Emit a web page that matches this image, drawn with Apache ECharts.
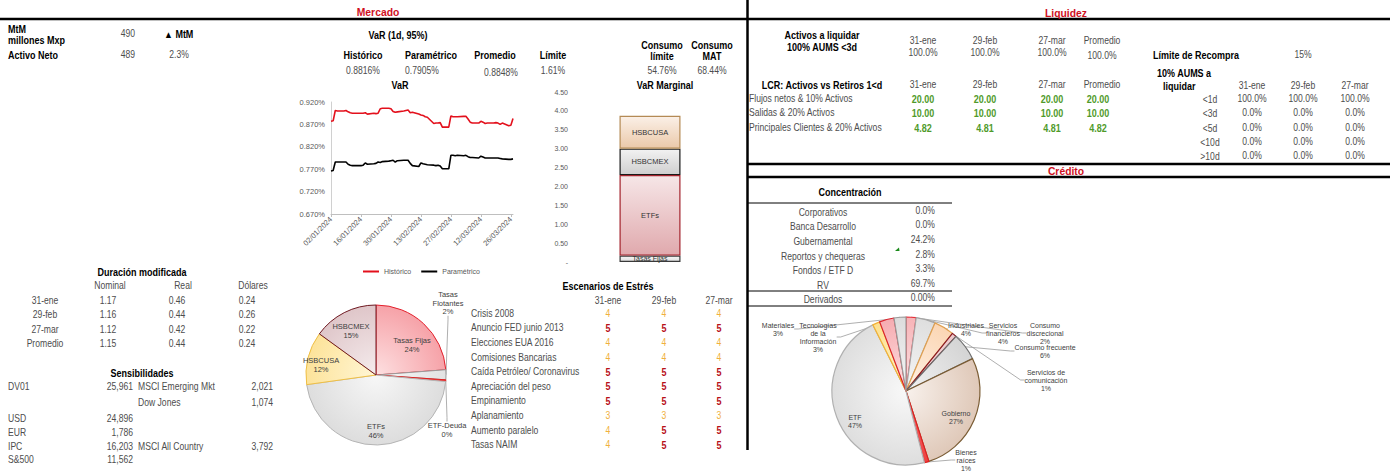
<!DOCTYPE html>
<html><head><meta charset="utf-8">
<script src="https://cdn.jsdelivr.net/npm/echarts@6/dist/echarts.min.js"></script>
<style>html,body{margin:0;padding:0;background:#fff}#c{width:1390px;height:473px}</style>
</head><body><div id="c"></div>
<script>
// ---------------- DATA ----------------
const mtmMillones = '490';
const activoNeto = '489';
const deltaMtM = '2.3%';

const varHeaders = ['Histórico', 'Paramétrico', 'Promedio', 'Límite'];
const varResumen = ['0.8816%', '0.7905%', '0.8848%', '1.61%'];
const consumoHeaders = [['Consumo', 'límite'], ['Consumo', 'MAT']];
const consumoValores = ['54.76%', '68.44%'];

const varFechas = [
 '02/01/2024','03/01/2024','04/01/2024','05/01/2024','08/01/2024','09/01/2024','10/01/2024','11/01/2024','12/01/2024',
 '15/01/2024','16/01/2024','17/01/2024','18/01/2024','19/01/2024','22/01/2024','23/01/2024','24/01/2024','25/01/2024',
 '26/01/2024','29/01/2024','30/01/2024','31/01/2024',
 '01/02/2024','02/02/2024','05/02/2024','06/02/2024','07/02/2024','08/02/2024','09/02/2024','12/02/2024','13/02/2024',
 '14/02/2024','15/02/2024','16/02/2024','19/02/2024','20/02/2024','21/02/2024','22/02/2024','23/02/2024','26/02/2024',
 '27/02/2024','28/02/2024','29/02/2024',
 '01/03/2024','04/03/2024','05/03/2024','06/03/2024','07/03/2024','08/03/2024','11/03/2024','12/03/2024','13/03/2024',
 '14/03/2024','15/03/2024','18/03/2024','19/03/2024','20/03/2024','21/03/2024','22/03/2024','25/03/2024','26/03/2024',
 '27/03/2024'];
const varHistorico = [
 0.877,0.878,0.901,0.900,0.900,0.901,0.898,0.896,0.895,0.895,0.895,0.895,0.896,0.893,0.895,0.894,0.895,0.905,0.906,0.906,0.905,0.899,
 0.897,0.898,0.900,0.901,0.902,0.896,0.897,0.893,0.891,0.890,0.887,0.886,0.872,0.873,0.873,0.874,0.864,0.864,0.889,0.887,0.887,
 0.887,0.888,0.888,0.882,0.875,0.873,0.873,0.877,0.875,0.872,0.873,0.873,0.874,0.873,0.870,0.873,0.867,0.868,0.883];
const varParametrico = [
 0.766,0.767,0.786,0.786,0.786,0.786,0.781,0.779,0.778,0.778,0.778,0.779,0.784,0.781,0.782,0.783,0.786,0.785,0.787,0.788,0.789,0.790,
 0.786,0.789,0.790,0.790,0.790,0.783,0.778,0.776,0.784,0.782,0.781,0.780,0.779,0.778,0.779,0.777,0.771,0.771,0.801,0.801,0.800,
 0.801,0.800,0.801,0.798,0.796,0.796,0.795,0.799,0.797,0.795,0.795,0.795,0.795,0.795,0.794,0.793,0.792,0.792,0.793];

const margNombres = ['Tasas Fijas', 'ETFs', 'HSBCMEX', 'HSBCUSA'];
const margValores = [0.17, 2.13, 0.70, 0.87];

const durFechas = ['31-ene', '29-feb', '27-mar', 'Promedio'];
const durNominal = [1.17, 1.16, 1.12, 1.15];
const durReal = [0.46, 0.44, 0.42, 0.44];
const durDolares = [0.24, 0.26, 0.22, 0.24];

const sensNombres = ['DV01', 'USD', 'EUR', 'IPC', 'S&500'];
const sensValores = ['25,961', '24,896', '1,786', '16,203', '11,562'];
const sensIdxNombres = ['MSCI Emerging Mkt', 'Dow Jones', 'MSCI All Country'];
const sensIdxValores = ['2,021', '1,074', '3,792'];

const pieNombres = ['Tasas Fijas', 'Tasas Flotantes', 'ETF-Deuda', 'ETFs', 'HSBCUSA', 'HSBCMEX'];
const pieValores = [23.8, 2.3, 0.4, 46.3, 12.2, 15.0];

const escFechas = ['31-ene', '29-feb', '27-mar'];
const escNombres = ['Crisis 2008','Anuncio FED junio 2013','Elecciones EUA 2016','Comisiones Bancarias','Caída Petróleo/ Coronavirus',
 'Apreciación del peso','Empinamiento','Aplanamiento','Aumento paralelo','Tasas NAIM'];
const escEne = [4,5,4,4,5,5,5,3,4,4];
const escFeb = [4,5,4,4,5,5,5,3,5,5];
const escMar = [4,5,4,4,5,5,5,3,5,5];

const liqFechas = ['31-ene', '29-feb', '27-mar', 'Promedio'];
const liqAums3d = ['100.0%', '100.0%', '100.0%', '100.0%'];
const lcrNombres = ['Flujos netos & 10% Activos', 'Salidas & 20% Activos', 'Principales Clientes & 20% Activos'];
const lcrFlujos = ['20.00', '20.00', '20.00', '20.00'];
const lcrSalidas = ['10.00', '10.00', '10.00', '10.00'];
const lcrClientes = ['4.82', '4.81', '4.81', '4.82'];
const limiteRecompra = '15%';
const aumsPlazos = ['<1d', '<3d', '<5d', '<10d', '>10d'];
const aumsEne = ['100.0%', '0.0%', '0.0%', '0.0%', '0.0%'];
const aumsFeb = ['100.0%', '0.0%', '0.0%', '0.0%', '0.0%'];
const aumsMar = ['100.0%', '0.0%', '0.0%', '0.0%', '0.0%'];

const concNombres = ['Corporativos', 'Banca Desarrollo', 'Gubernamental', 'Reportos y chequeras', 'Fondos / ETF D', 'RV', 'Derivados'];
const concValores = ['0.0%', '0.0%', '24.2%', '2.8%', '3.3%', '69.7%', '0.00%'];

const credNombres = ['Consumo discrecional', 'Servicios financieros', 'Industriales', 'Servicios de comunicación', 'Consumo frecuente',
 'Gobierno', 'Bienes raíces', 'ETF', 'Otros', 'Materiales', 'Tecnologías de la Información'];
const credValores = [2.2, 4.2, 4.4, 1.0, 6.0, 27.2, 1.0, 46.6, 1.6, 3.2, 2.6];

// ---------------- STYLE / LAYOUT ----------------
const FF = '"Liberation Sans",Arial,sans-serif';
const SX = 0.86, SXB = 0.9;
const GREY = '#4d4d4d', RED = '#d0101e', GREEN = '#4f9a2a', ORANGE = '#f0b03c', DRED = '#b8101a';
const G = [];
function T(x, y, s, o) {
  o = o || {};
  G.push({type: 'text', x: x, y: y, scaleX: o.b ? SXB : SX, silent: true, z: 10,
    style: {text: String(s), fill: o.c || GREY, font: (o.b ? 'bold ' : '') + (o.s || 10) + 'px ' + FF,
      align: o.a || 'left', textAlign: o.a || 'left', verticalAlign: 'middle', textVerticalAlign: 'middle'}});
}
function L(x1, y1, x2, y2, w, c) {
  G.push({type: 'line', silent: true, z: 5, shape: {x1: x1, y1: y1, x2: x2, y2: y2}, style: {stroke: c || '#000', lineWidth: w || 1}});
}
function rg(cx, cy, r, c0, c1) {
  return {type: 'radial', x: cx, y: cy, r: r, global: true, colorStops: [{offset: 0, color: c0}, {offset: 1, color: c1}]};
}
function lg(c0, c1) {
  return {type: 'linear', x: 0, y: 0, x2: 0, y2: 1, colorStops: [{offset: 0, color: c0}, {offset: 1, color: c1}]};
}

// frame lines
L(0, 19, 1390, 19, 2.6);
L(747.5, 0, 747.5, 450, 2.5);
L(748, 164, 1390, 164, 2.5);
L(748, 177, 1390, 177, 2.5);
L(748, 203, 952, 203, 1);
L(748, 291, 952, 291, 1);
L(748, 306, 952, 306, 1);
G.push({type: 'polygon', silent: true, shape: {points: [[895, 251], [899, 247.5], [899.5, 251]]}, style: {fill: '#1a8a1a'}});

// section titles
T(378, 12, 'Mercado', {b: 1, s: 11.5, c: RED, a: 'center'});
T(1066, 13, 'Liquidez', {b: 1, s: 11.5, c: RED, a: 'center'});
T(1066, 170.5, 'Crédito', {b: 1, s: 11.5, c: RED, a: 'center'});

// top-left
T(8, 29, 'MtM', {b: 1, c: '#000'});
T(8, 40, 'millones Mxp', {b: 1, c: '#000'});
T(135, 34, mtmMillones, {a: 'right'});
T(164, 34, '▲ MtM', {b: 1, c: '#000'});
T(8, 55, 'Activo Neto', {b: 1, c: '#000'});
T(135, 55, activoNeto, {a: 'right'});
T(179, 55, deltaMtM, {a: 'center'});

// VaR header block
T(398, 35, 'VaR (1d, 95%)', {b: 1, c: '#000', a: 'center'});
const varHx = [363, 431, 495, 553];
const varVx = [363, 422, 501, 553];
varHeaders.forEach((h, i) => T(varHx[i], 55, h, {b: 1, c: '#000', a: 'center'}));
varResumen.forEach((v, i) => T(varVx[i], i === 2 ? 73 : 71, v, {a: 'center'}));
const consX = [662, 712];
consumoHeaders.forEach((h, i) => { T(consX[i], 45, h[0], {b: 1, c: '#000', a: 'center'}); T(consX[i], 56, h[1], {b: 1, c: '#000', a: 'center'}); });
consumoValores.forEach((v, i) => T(consX[i], 71, v, {a: 'center'}));
T(400, 85, 'VaR', {b: 1, c: '#000', a: 'center'});
T(665, 85, 'VaR Marginal', {b: 1, c: '#000', a: 'center'});

// Duración modificada
T(142, 272, 'Duración modificada', {b: 1, c: '#000', a: 'center'});
const durCols = [110, 183, 253];
['Nominal', 'Real', 'Dólares'].forEach((h, i) => T(durCols[i], 286, h, {a: 'center'}));
durFechas.forEach((f, i) => {
  const y = 301 + i * 14.2;
  T(45, y, f, {a: 'center'});
  T(108, y, durNominal[i].toFixed(2), {a: 'center'});
  T(177, y, durReal[i].toFixed(2), {a: 'center'});
  T(247, y, durDolares[i].toFixed(2), {a: 'center'});
});

// Sensibilidades
T(142, 373, 'Sensibilidades', {b: 1, c: '#000', a: 'center'});
const sensY = [387, 419, 433, 447, 460];
sensNombres.forEach((n, i) => { T(8, sensY[i], n); T(133, sensY[i], sensValores[i], {a: 'right'}); });
const sensIdxY = [387, 403, 447];
sensIdxNombres.forEach((n, i) => { T(138, sensIdxY[i], n); T(273, sensIdxY[i], sensIdxValores[i], {a: 'right'}); });

// Escenarios de Estrés
T(608, 286, 'Escenarios de Estrés', {b: 1, c: '#000', a: 'center'});
const escX = [608, 664, 719];
escFechas.forEach((f, i) => T(escX[i], 301, f, {a: 'center'}));
escNombres.forEach((n, i) => {
  const y = 313.5 + i * 14.6;
  T(471, y, n);
  [escEne[i], escFeb[i], escMar[i]].forEach((v, j) => {
    T(escX[j], y, v, {a: 'center', b: v === 5 ? 1 : 0, c: v === 5 ? DRED : ORANGE});
  });
});

// Liquidez
T(822, 35, 'Activos a liquidar', {b: 1, c: '#000', a: 'center'});
T(822, 47, '100% AUMS <3d', {b: 1, c: '#000', a: 'center'});
const liqX = [923, 985, 1052, 1102];
liqFechas.forEach((f, i) => T(liqX[i], 41, f, {a: 'center'}));
liqAums3d.forEach((v, i) => T(liqX[i], i === 3 ? 56 : 53, v, {a: 'center'}));
T(822, 85, 'LCR: Activos vs Retiros 1<d', {b: 1, c: '#000', a: 'center'});
liqFechas.forEach((f, i) => T(liqX[i], 85, f, {a: 'center'}));
const lcrY = [99, 113, 128];
const lcrVX = [923, 985, 1052, 1098];
[lcrFlujos, lcrSalidas, lcrClientes].forEach((row, r) => {
  T(749, lcrY[r], lcrNombres[r]);
  row.forEach((v, i) => T(lcrVX[i], lcrY[r], v, {a: 'center', b: 1, c: GREEN}));
});
T(1153, 55, 'Límite de Recompra', {b: 1, c: '#000'});
T(1303, 55, limiteRecompra, {a: 'center'});
T(1157, 73, '10% AUMS a', {b: 1, c: '#000'});
T(1163, 86, 'liquidar', {b: 1, c: '#000'});
const aumX = [1252, 1303, 1355];
['31-ene', '29-feb', '27-mar'].forEach((f, i) => T(aumX[i], 86, f, {a: 'center'}));
aumsPlazos.forEach((p, i) => {
  const y = 99.5 + i * 14.4;
  T(1210, y, p, {a: 'center'});
  [aumsEne[i], aumsFeb[i], aumsMar[i]].forEach((v, j) => T(aumX[j], y - 1, v, {a: 'center'}));
});

// Concentración
T(850, 192, 'Concentración', {b: 1, c: '#000', a: 'center'});
const concY = [213, 227, 242, 257, 271, 286, 300];
concNombres.forEach((n, i) => {
  T(823, concY[i], n, {a: 'center'});
  T(935, concY[i] - 2, concValores[i], {a: 'right'});
});

// ---------------- CHART DATA BUILD ----------------
const calendario = [];
for (let d = new Date(Date.UTC(2024, 0, 2)); d <= new Date(Date.UTC(2024, 2, 27)); d = new Date(d.getTime() + 86400000)) {
  calendario.push(String(d.getUTCDate()).padStart(2, '0') + '/' + String(d.getUTCMonth() + 1).padStart(2, '0') + '/' + d.getUTCFullYear());
}
const histData = varFechas.map((f, i) => [calendario.indexOf(f), varHistorico[i]]);
const paraData = varFechas.map((f, i) => [calendario.indexOf(f), varParametrico[i]]);

const margStyles = {
  'Tasas Fijas': {fill: lg('#f6f6f6', '#dedede'), border: '#3a3a3a'},
  'ETFs': {fill: lg('#f6e6e7', '#e0a9ad'), border: '#a3232c'},
  'HSBCMEX': {fill: lg('#f2f2f2', '#cfcfcf'), border: '#1a1a1a'},
  'HSBCUSA': {fill: lg('#fbf0e7', '#ebc9aa'), border: '#b48a55'}
};
const barSeries = margNombres.map((n, i) => ({
  type: 'bar', name: n, xAxisIndex: 1, yAxisIndex: 1, stack: 'm', data: [margValores[i]], barWidth: 61,
  itemStyle: {color: margStyles[n].fill, borderColor: margStyles[n].border, borderWidth: 1.2},
  label: {show: true, position: 'inside', formatter: n, fontSize: i === 0 ? 7 : 7.5, color: '#333', fontFamily: FF}
}));

// left pie
const pieCx = 376, pieCy = 375, pieR = 70;
const pieFill = {
  'Tasas Fijas': ['#fde0e1', '#f6a2a8', '#e3202c'],
  'Tasas Flotantes': ['#f7f7f7', '#e2e2e2', '#9a9a9a'],
  'ETF-Deuda': ['#f47a7a', '#ee3a3a', '#e02020'],
  'ETFs': ['#f7f7f7', '#dddddd', '#b5b5b5'],
  'HSBCUSA': ['#fff6d6', '#fde39a', '#efbf45'],
  'HSBCMEX': ['#f5eced', '#dfc6c9', '#6e1820']
};
const pieWrap = {'Tasas Flotantes': 'Tasas\nFlotantes'};
const pieLabelPos = {
  'Tasas Fijas': [412, 345], 'Tasas Flotantes': [448, 303], 'ETF-Deuda': [447, 430],
  'ETFs': [376, 431], 'HSBCUSA': [321, 365], 'HSBCMEX': [351, 331]
};
const pieInner = {'Tasas Fijas': 1, 'ETFs': 1, 'HSBCUSA': 1, 'HSBCMEX': 1};
const pieData = pieNombres.map((n, i) => ({
  name: n, value: pieValores[i],
  itemStyle: {color: rg(pieCx, pieCy, pieR, pieFill[n][0], pieFill[n][1]), borderColor: pieFill[n][2], borderWidth: 1},
  labelLine: {show: !pieInner[n]}
}));

// credit pie
const crCx = 906, crCy = 391, crR = 74;
const credFill = {
  'Consumo discrecional': ['#fde3e4', '#f7b3b7', '#e8303a'],
  'Servicios financieros': ['#f6f6f6', '#dedede', '#a6a6a6'],
  'Industriales': ['#fff2e6', '#fbd6b4', '#e0a050'],
  'Servicios de comunicación': ['#f8e6e7', '#ecc8ca', '#8b1a22'],
  'Consumo frecuente': ['#f2f2f2', '#d4d4d4', '#6e6e6e'],
  'Gobierno': ['#f8f1ec', '#dfc8b8', '#7a5c34'],
  'Bienes raíces': ['#f47474', '#ee4040', '#e02020'],
  'ETF': ['#f8f8f8', '#dedede', '#b0b0b0'],
  'Otros': ['#fff4cc', '#fde08e', '#f2b134'],
  'Materiales': ['#fde2e3', '#f6acb1', '#d9232d'],
  'Tecnologías de la Información': ['#f6f6f6', '#dcdcdc', '#9a9a9a']
};
const credWrap = {
  'Consumo discrecional': 'Consumo\ndiscrecional', 'Servicios financieros': 'Servicios\nfinancieros',
  'Servicios de comunicación': 'Servicios de\ncomunicación', 'Bienes raíces': 'Bienes\nraíces',
  'Tecnologías de la Información': 'Tecnologías\nde la\nInformación'
};
const credLabelPos = {
  'Materiales': [778, 329], 'Tecnologías de la Información': [818, 337], 'Industriales': [966, 329],
  'Servicios financieros': [1003, 333], 'Consumo discrecional': [1045, 333], 'Consumo frecuente': [1045, 351],
  'Servicios de comunicación': [1046, 380], 'Gobierno': [956, 417], 'ETF': [855, 421], 'Bienes raíces': [966, 460]
};
const credInner = {'Gobierno': 1, 'ETF': 1};
const credData = credNombres.map((n, i) => ({
  name: n, value: credValores[i],
  itemStyle: {color: rg(crCx, crCy, crR, credFill[n][0], credFill[n][1]), borderColor: credFill[n][2], borderWidth: 1.2},
  label: {show: n !== 'Otros'},
  labelLine: {show: !credInner[n] && n !== 'Otros'}
}));

function pieLayout(names, pos) {
  return function (p) {
    const q = pos[names[p.dataIndex]];
    if (!q) return {};
    return {x: q[0], y: q[1], align: 'center', verticalAlign: 'middle'};
  };
}

// ---------------- OPTION ----------------
const chart = echarts.init(document.getElementById('c'), null, {renderer: 'svg'});
chart.setOption({
  animation: false,
  backgroundColor: '#fff',
  textStyle: {fontFamily: FF},
  legend: {
    data: ['Histórico', 'Paramétrico'], left: 358, top: 263, icon: 'rect', itemWidth: 16, itemHeight: 2, itemGap: 10,
    textStyle: {fontSize: 7, color: '#595959', fontFamily: FF}
  },
  grid: [
    {left: 331, top: 102, width: 182, height: 112},
    {left: 572, top: 92, width: 156, height: 170}
  ],
  xAxis: [
    {gridIndex: 0, type: 'category', data: calendario, boundaryGap: false,
      axisLine: {lineStyle: {color: '#bfbfbf'}},
      axisTick: {interval: 13, length: 3, lineStyle: {color: '#bfbfbf'}},
      axisLabel: {interval: 13, rotate: 45, fontSize: 7.5, color: '#595959', margin: 4, fontFamily: FF}},
    {gridIndex: 1, type: 'category', data: ['VaR Marginal'], show: false}
  ],
  yAxis: [
    {gridIndex: 0, type: 'value', min: 0.67, max: 0.92, interval: 0.05,
      axisLine: {show: true, lineStyle: {color: '#d0d0d0'}}, axisTick: {show: false}, splitLine: {show: false},
      axisLabel: {fontSize: 7.5, color: '#595959', margin: 6, fontFamily: FF, formatter: v => v.toFixed(3) + '%'}},
    {gridIndex: 1, type: 'value', min: 0, max: 4.5, interval: 0.5,
      axisLine: {show: false}, axisTick: {show: false}, splitLine: {show: false},
      axisLabel: {fontSize: 7, color: '#595959', margin: 4, fontFamily: FF, formatter: v => v === 0 ? '-' : v.toFixed(2)}}
  ],
  series: [
    {type: 'line', name: 'Histórico', xAxisIndex: 0, yAxisIndex: 0, data: histData, showSymbol: false, symbol: 'none',
      itemStyle: {color: '#e3101c'}, lineStyle: {color: '#e3101c', width: 1.6}},
    {type: 'line', name: 'Paramétrico', xAxisIndex: 0, yAxisIndex: 0, data: paraData, showSymbol: false, symbol: 'none',
      itemStyle: {color: '#000'}, lineStyle: {color: '#000', width: 1.6}},
    ...barSeries,
    {type: 'pie', name: 'Composición', center: [pieCx, pieCy], radius: pieR, startAngle: 90, clockwise: true,
      avoidLabelOverlap: false, data: pieData,
      label: {show: true, position: 'outside', fontSize: 7.5, lineHeight: 8.5, color: '#404040', fontFamily: FF,
        formatter: p => (pieWrap[p.name] || p.name) + '\n' + Math.round(p.percent) + '%'},
      labelLine: {show: true, length: 4, length2: 4, lineStyle: {color: '#9a9a9a', width: 0.8}},
      labelLayout: pieLayout(pieNombres, pieLabelPos)},
    {type: 'pie', name: 'Crédito', center: [crCx, crCy], radius: crR, startAngle: 90, clockwise: true,
      avoidLabelOverlap: false, data: credData,
      label: {show: true, position: 'outside', fontSize: 7, lineHeight: 8, color: '#404040', fontFamily: FF,
        formatter: p => (credWrap[p.name] || p.name) + '\n' + Math.round(p.percent) + '%'},
      labelLine: {show: true, length: 4, length2: 4, lineStyle: {color: '#9a9a9a', width: 0.8}},
      labelLayout: pieLayout(credNombres, credLabelPos)}
  ],
  graphic: G
});
</script>
</body></html>
